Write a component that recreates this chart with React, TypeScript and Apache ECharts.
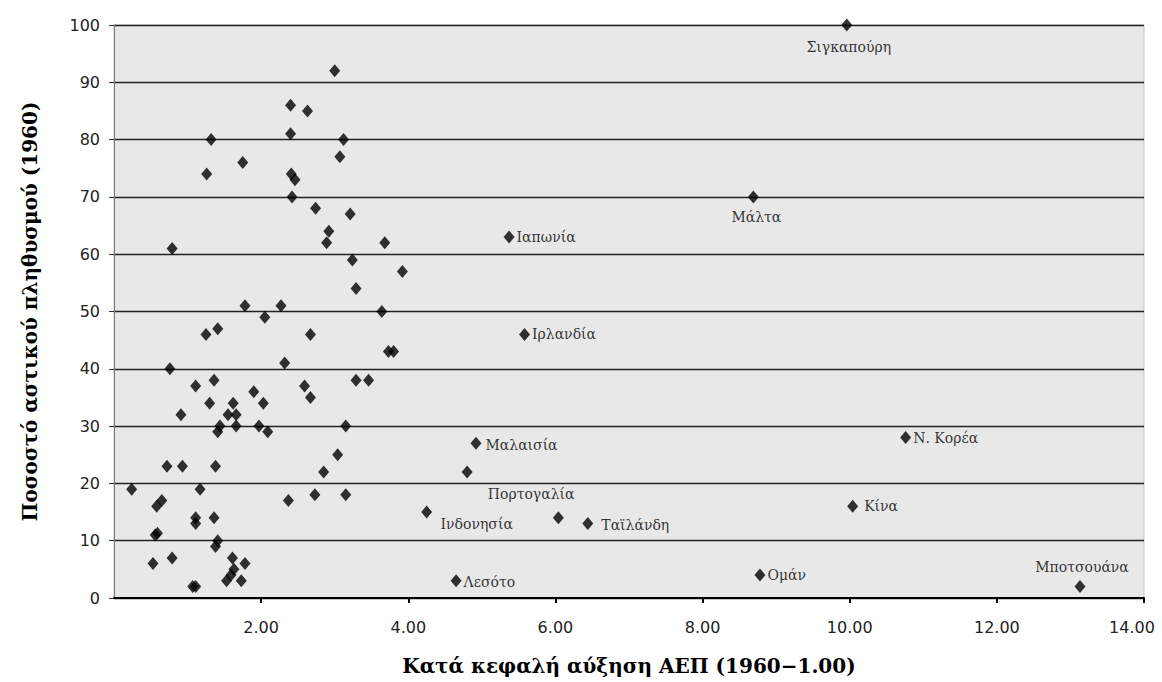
import React, { useEffect, useRef } from "react";
import * as echarts from "echarts";

// Unlabelled countries: GDP growth (x) and urban share 1960 (y)
const xValues = [
  3.0, 2.4, 2.63, 2.4, 3.12, 1.32, 3.07, 1.75, 1.26, 2.41, 2.46, 2.42, 2.74, 3.21, 2.92, 2.89, 3.68, 0.79,
  3.24, 3.92, 3.29, 1.78, 2.27, 2.05, 3.64, 1.25, 1.41, 2.67, 3.73, 3.8, 0.76, 2.32, 1.11, 1.36, 2.59, 3.29,
  3.46, 1.9, 2.67, 1.3, 1.62, 2.03, 0.91, 1.55, 1.66, 1.44, 1.41, 1.66, 1.97, 2.09, 3.15, 3.04, 0.72, 0.93,
  1.38, 2.85, 0.24, 1.17, 2.73, 3.15, 2.37, 0.65, 0.58, 1.11, 1.11, 1.36, 0.59, 0.56, 1.41, 1.38, 0.53, 0.79,
  1.61, 1.78, 1.63, 1.59, 1.53, 1.73, 1.07, 1.11, 6.04,
];
const yValues = [
  92, 86, 85, 81, 80, 80, 77, 76, 74, 74, 73, 70, 68, 67, 64, 62, 62, 61,
  59, 57, 54, 51, 51, 49, 50, 46, 47, 46, 43, 43, 40, 41, 37, 38, 37, 38,
  38, 36, 35, 34, 34, 34, 32, 32, 32, 30, 29, 30, 30, 29, 30, 25, 23, 23,
  23, 22, 19, 19, 18, 18, 17, 17, 16, 14, 13, 14, 11.3, 11, 10, 9, 6, 7,
  7, 6, 5, 4, 3, 3, 2, 2, 14,
];

// Labelled countries
const labelNames = [
  "Σιγκαπούρη", "Μάλτα", "Ιαπωνία", "Ιρλανδία", "Μαλαισία", "Πορτογαλία", "Ινδονησία",
  "Ταϊλάνδη", "Λεσότο", "Ομάν", "Ν. Κορέα", "Κίνα", "Μποτσουάνα",
];
const labelX = [9.96, 8.69, 5.37, 5.58, 4.92, 4.8, 4.25, 6.44, 4.65, 8.78, 10.76, 10.04, 13.13];
const labelY = [100, 70, 63, 46, 27, 22, 15, 13, 3, 4, 28, 16, 2];

const xTicks = { min: 0, max: 14, interval: 2 };
const yTicks = { min: 0, max: 100, interval: 10 };

const xTitle = "Κατά κεφαλή αύξηση ΑΕΠ (1960−1.00)";
const yTitle = "Ποσοστό αστικού πληθυσμού (1960)";

// label placement (style, not data)
const labelPlacement: Record<string, { position: any; offset: [number, number] }> = {
  "Σιγκαπούρη": { position: "bottom", offset: [2, 4] },
  "Μάλτα": { position: "bottom", offset: [3, 3] },
  "Ιαπωνία": { position: "right", offset: [-2, 0] },
  "Ιρλανδία": { position: "right", offset: [-2, 0] },
  "Μαλαισία": { position: "right", offset: [0, 2] },
  "Πορτογαλία": { position: "inside", offset: [64, 22] },
  "Ινδονησία": { position: "inside", offset: [50, 12] },
  "Ταϊλάνδη": { position: "right", offset: [4, 1] },
  "Λεσότο": { position: "right", offset: [-2, 1] },
  "Ομάν": { position: "right", offset: [-2, 0] },
  "Ν. Κορέα": { position: "right", offset: [-2, 0] },
  "Κίνα": { position: "right", offset: [2, 0] },
  "Μποτσουάνα": { position: "top", offset: [2, -2] },
};

export default function App() {
  const ref = useRef<HTMLDivElement>(null);
  useEffect(() => {
    if (!ref.current) return;
    const chart = echarts.init(ref.current, null, { renderer: "svg" });
    const plain = xValues.map((x, i) => [x, yValues[i]]);
    const labelled = labelNames.map((n, i) => {
      const p = labelPlacement[n];
      return {
        name: n,
        value: [labelX[i], labelY[i]],
        label: {
          show: true,
          formatter: n,
          position: p.position,
          offset: p.offset,
          distance: 4,
        },
      };
    });
    const tickFont = { fontFamily: "DejaVu Sans", fontSize: 16, color: "#222" };
    chart.setOption({
      animation: false,
      backgroundColor: "#ffffff",
      grid: {
        left: 114,
        right: 18,
        top: 25,
        bottom: 84,
        outerBoundsMode: "none",
        containLabel: false,
        show: true,
        backgroundColor: "#e8e8e8",
        borderColor: "#c4c4c4",
        borderWidth: 1,
      },
      xAxis: {
        type: "value",
        min: xTicks.min,
        max: xTicks.max,
        interval: xTicks.interval,
        name: xTitle,
        nameLocation: "middle",
        nameGap: 58,
        nameTextStyle: { fontFamily: "DejaVu Serif", fontWeight: "bold", fontSize: 20, color: "#000" },
        axisLine: { show: true, onZero: false, lineStyle: { color: "#000", width: 2 } },
        axisTick: { show: true, length: 5, lineStyle: { color: "#000", width: 2 } },
        axisLabel: {
          showMinLabel: false,
          margin: 21,
          ...tickFont,
          formatter: (v: number) =>
            v >= xTicks.max ? "{last|" + v.toFixed(2) + "}" : v.toFixed(2),
          rich: { last: { ...tickFont, padding: [0, 24, 0, 0] } },
        },
        splitLine: { show: false },
      },
      yAxis: {
        type: "value",
        min: yTicks.min,
        max: yTicks.max,
        interval: yTicks.interval,
        name: yTitle,
        nameLocation: "middle",
        nameRotate: 90,
        nameGap: 74,
        nameTextStyle: { fontFamily: "DejaVu Serif", fontWeight: "bold", fontSize: 20, color: "#000" },
        axisLine: { show: true, lineStyle: { color: "#777", width: 1 } },
        axisTick: { show: true, length: 5, lineStyle: { color: "#333" } },
        axisLabel: { margin: 14, ...tickFont },
        splitLine: { show: true, lineStyle: { color: "#222", width: 1.3 } },
      },
      series: [
        {
          type: "scatter",
          symbol: "diamond",
          symbolSize: [11, 13],
          itemStyle: { color: "#000" },
          clip: false,
          data: plain,
        },
        {
          type: "scatter",
          symbol: "diamond",
          symbolSize: [11, 13],
          itemStyle: { color: "#000" },
          clip: false,
          label: { fontFamily: "DejaVu Serif", fontSize: 14, color: "#000" },
          data: labelled,
        },
      ],
    });
    return () => chart.dispose();
  }, []);
  return (
    <div
      ref={ref}
      style={{ position: "fixed", left: 0, top: 0, width: 1162, height: 682 }}
    />
  );
}
